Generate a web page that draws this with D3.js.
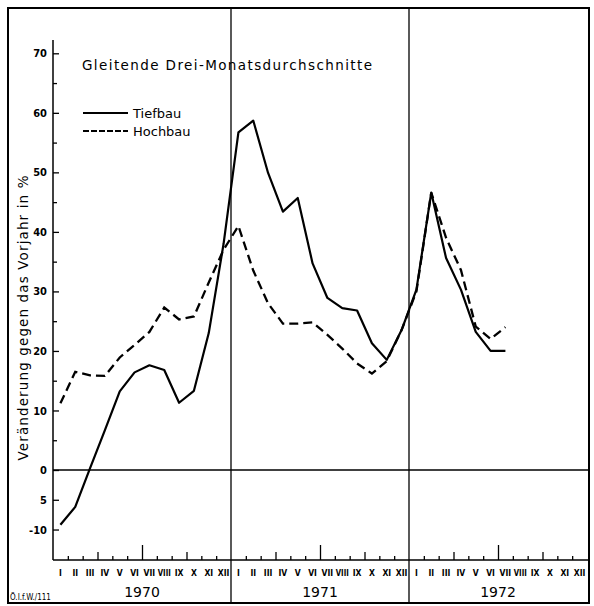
<!DOCTYPE html>
<html>
<head>
<meta charset="utf-8">
<script src="https://cdn.jsdelivr.net/npm/d3@7"></script>
<style>
  body { margin: 0; background: #fff; }
  svg { display: block; font-family: "DejaVu Sans Condensed", "DejaVu Sans", sans-serif; }
  .axis path { display: none; }
  .axis line { stroke: #000; stroke-width: 1.3; }
  .axis text { fill: #000; }
</style>
</head>
<body>
<div class="canvas"></div>
<script>
// what to show
var months = ['I', 'II', 'III', 'IV', 'V', 'VI', 'VII', 'VIII', 'IX', 'X', 'XI', 'XII'],
    years = ['1970', '1971', '1972'];

// moving three-month averages, change on previous year in %, from jan 1970
var tiefbau = [-9.2, -6.2, 0.3, 6.7, 13.2, 16.4, 17.6, 16.8, 11.3, 13.3, 23, 38,
               56.7, 58.7, 49.9, 43.4, 45.7, 34.7, 28.9, 27.2, 26.8, 21.3, 18.5, 23.5,
               30.3, 46.6, 35.6, 30.3, 23.2, 20, 20];
var hochbau = [11.2, 16.5, 15.9, 15.8, 18.9, 21, 23.2, 27.3, 25.3, 25.8, 31.5, 37,
               41, 33.5, 28, 24.6, 24.6, 24.8, 22.7, 20.4, 17.9, 16.2, 18.3, 23.5,
               30, 46.6, 39, 33.6, 24.1, 22, 24];

var majorTicks = [70, 60, 50, 40, 30, 20, 10, 0, -5, -10],
    minorTicks = [65, 55, 45, 35, 25, 15, 5];

// where does it live
var width = 594,
    height = 606,
    frame = {left: 8, top: 8, right: 589, bottom: 603},
    plot = {left: 53, right: 587, top: 40, bottom: 560};

var svg = d3.select('.canvas').append('svg')
    .attr('width', width)
    .attr('height', height);

var x = d3.scaleLinear().domain([0, 36]).range([plot.left, plot.right]),
    y = d3.scaleLinear().domain([-15, 70]).range([559.3, 53.3]);

// frame
svg.append('rect')
    .attr('x', frame.left)
    .attr('y', frame.top)
    .attr('width', frame.right - frame.left)
    .attr('height', frame.bottom - frame.top)
    .attr('fill', 'none')
    .attr('stroke', '#000')
    .attr('stroke-width', 2);

// year dividers
svg.selectAll('line.year')
    .data([12, 24])
    .enter()
    .append('line')
    .attr('class', 'year')
    .attr('x1', function (d) { return x(d); })
    .attr('x2', function (d) { return x(d); })
    .attr('y1', frame.top)
    .attr('y2', frame.bottom)
    .attr('stroke', '#000')
    .attr('stroke-width', 1.3);

// y axis
svg.append('line')
    .attr('x1', plot.left).attr('x2', plot.left)
    .attr('y1', plot.top).attr('y2', plot.bottom)
    .attr('stroke', '#000')
    .attr('stroke-width', 1.5);

svg.append('g')
    .attr('class', 'axis')
    .attr('transform', 'translate(' + plot.left + ',0)')
    .call(d3.axisLeft(y)
        .tickValues(majorTicks)
        .tickSize(-6)
        .tickPadding(6)
        .tickFormat(function (d) { return d === -5 ? '5' : d; }))
    .selectAll('text')
    .attr('font-size', 11)
    .attr('font-weight', 'bold')
    .attr('font-family', '"DejaVu Sans Condensed", sans-serif');

svg.append('g')
    .attr('class', 'axis')
    .attr('transform', 'translate(' + plot.left + ',0)')
    .call(d3.axisLeft(y)
        .tickValues(minorTicks)
        .tickSize(-4)
        .tickFormat(''));

// zero line
svg.append('line')
    .attr('x1', plot.left).attr('x2', frame.right)
    .attr('y1', y(0)).attr('y2', y(0))
    .attr('stroke', '#000')
    .attr('stroke-width', 1.6);

// x axis
svg.append('line')
    .attr('x1', plot.left).attr('x2', frame.right)
    .attr('y1', plot.bottom).attr('y2', plot.bottom)
    .attr('stroke', '#000')
    .attr('stroke-width', 1.5);

var bounds = d3.range(1, 36).filter(function (k) { return k % 12 !== 0; });

function tickRow(values, size) {
    svg.append('g')
        .attr('class', 'axis')
        .attr('transform', 'translate(0,' + plot.bottom + ')')
        .call(d3.axisBottom(x)
            .tickValues(values)
            .tickSize(-size)
            .tickFormat(''));
}

tickRow(bounds.filter(function (k) { return k % 3 !== 0; }), 4);
tickRow(bounds.filter(function (k) { return k % 3 === 0 && k % 6 !== 0; }), 8);
tickRow(bounds.filter(function (k) { return k % 6 === 0; }), 15);

// month labels
var monthData = d3.range(36).map(function (i) {
    return {i: i, label: months[i % 12]};
});

svg.selectAll('text.month')
    .data(monthData)
    .enter()
    .append('text')
    .attr('class', 'month')
    .attr('x', function (d) { return x(d.i + 0.5); })
    .attr('y', 576)
    .attr('text-anchor', 'middle')
    .attr('font-size', 8.5)
    .attr('font-weight', 'bold')
    .attr('textLength', function (d) { return d.label.length > 3 ? 13 : null; })
    .attr('lengthAdjust', 'spacingAndGlyphs')
    .text(function (d) { return d.label; });

svg.selectAll('text.yr')
    .data(years)
    .enter()
    .append('text')
    .attr('class', 'yr')
    .attr('x', function (d, i) { return x(i * 12 + 6); })
    .attr('y', 597)
    .attr('text-anchor', 'middle')
    .attr('font-size', 14)
    .attr('font-family', '"DejaVu Sans", sans-serif')
    .text(function (d) { return d; });

// lines
var line = d3.line()
    .x(function (d, i) { return x(i + 0.5); })
    .y(function (d) { return y(d); });

svg.append('path')
    .datum(hochbau)
    .attr('d', line)
    .attr('fill', 'none')
    .attr('stroke', '#000')
    .attr('stroke-width', 2.3)
    .attr('stroke-dasharray', '9,5');

svg.append('path')
    .datum(tiefbau)
    .attr('d', line)
    .attr('fill', 'none')
    .attr('stroke', '#000')
    .attr('stroke-width', 2.2)
    .attr('stroke-linejoin', 'round');

// title and legend
svg.append('text')
    .attr('x', 82)
    .attr('y', 70)
    .attr('font-size', 13.5)
    .attr('font-family', '"DejaVu Sans", sans-serif')
    .attr('textLength', 290)
    .attr('lengthAdjust', 'spacing')
    .text('Gleitende Drei-Monatsdurchschnitte');

var legend = [
    {name: 'Tiefbau', dash: null, y: 113},
    {name: 'Hochbau', dash: '6,2', y: 131}
];

svg.selectAll('line.key')
    .data(legend)
    .enter()
    .append('line')
    .attr('class', 'key')
    .attr('x1', 83).attr('x2', 128)
    .attr('y1', function (d) { return d.y; })
    .attr('y2', function (d) { return d.y; })
    .attr('stroke', '#000')
    .attr('stroke-width', 2)
    .attr('stroke-dasharray', function (d) { return d.dash; });

svg.selectAll('text.key')
    .data(legend)
    .enter()
    .append('text')
    .attr('class', 'key')
    .attr('x', 133)
    .attr('y', function (d) { return d.y + 5; })
    .attr('font-size', 13)
    .attr('font-family', '"DejaVu Sans", sans-serif')
    .text(function (d) { return d.name; });

// y title
svg.append('text')
    .attr('transform', 'translate(28,318) rotate(-90)')
    .attr('text-anchor', 'middle')
    .attr('font-size', 13.5)
    .attr('font-family', '"DejaVu Sans", sans-serif')
    .attr('textLength', 285)
    .attr('lengthAdjust', 'spacing')
    .text('Veränderung gegen das Vorjahr in %');

// source
svg.append('text')
    .attr('x', 10)
    .attr('y', 600)
    .attr('font-size', 8)
    .text('Ö.I.f.W./111');
</script>
</body>
</html>
